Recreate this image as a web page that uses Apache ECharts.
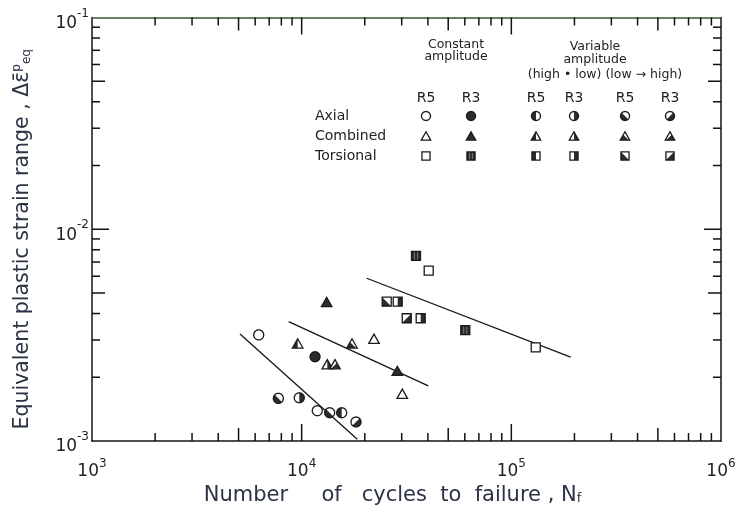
<!DOCTYPE html>
<html>
<head>
<meta charset="utf-8">
<script src="https://cdn.jsdelivr.net/npm/echarts@6/dist/echarts.min.js"></script>
<style>html,body{margin:0;padding:0;background:#fff}#c{width:739px;height:511px}</style>
</head>
<body>
<div id="c"></div>
<script>
// ---------- data ----------
// style index: 0 R5 constant, 1 R3 constant, 2 R5 high->low, 3 R3 high->low, 4 R5 low->high, 5 R3 low->high
const axialN     = [6240, 11580, 7740, 9740, 11870, 13600, 15520, 18160];
const axialEps   = [0.00317, 0.00250, 0.00159, 0.00160, 0.00139, 0.00136, 0.00136, 0.00123];
const axialStyle = [0, 1, 4, 3, 0, 4, 2, 5];

const combN     = [13160, 9570, 17380, 22130, 13250, 14420, 28590, 30200];
const combEps   = [0.00450, 0.00287, 0.00287, 0.00302, 0.00229, 0.00229, 0.00213, 0.00166];
const combStyle = [1, 2, 4, 0, 3, 5, 1, 0];

const torsN     = [35100, 40350, 25440, 28710, 31700, 36950, 60310, 130700];
const torsEps   = [0.00748, 0.00637, 0.00455, 0.00455, 0.00380, 0.00380, 0.00334, 0.00277];
const torsStyle = [1, 0, 4, 3, 5, 3, 1, 0];

// fitted lines (end points)
const axialLineN = [5080, 18420];   const axialLineEps = [0.00320, 0.00102];
const combLineN  = [8670, 40180];   const combLineEps  = [0.00366, 0.00182];
const torsLineN  = [20430, 191900]; const torsLineEps  = [0.00587, 0.00249];

// axes / ticks
const xDecades = [1e3, 1e4, 1e5, 1e6];
const yDecades = [1e-3, 1e-2, 1e-1];
const minorMult = [2, 3, 4, 5, 6, 7, 8, 9];

// legend texts
const rowLabels = ['Axial', 'Combined', 'Torsional'];
const rowShapes = ['circle', 'triangle', 'square'];
const colHeads  = ['R5', 'R3', 'R5', 'R3', 'R5', 'R3'];
const groupHead1 = 'Constant\namplitude';
const groupHead2 = 'Variable\namplitude';
const groupHead3 = '(high \u2022 low) (low \u2192 high)';

// ---------- marker drawing ----------
const FONT = 'DejaVu Sans';
const DARK = '#2c2c2c';
const dirs = [null, 'all', 180, 0, 135, 45];

function shapePoly(shape, x, y, s) {
  const pts = [];
  if (shape === 'circle') {
    const r = s / 2;
    for (let i = 0; i < 36; i++) {
      const a = i / 36 * Math.PI * 2;
      pts.push([x + r * Math.cos(a), y + r * Math.sin(a)]);
    }
  } else if (shape === 'triangle') {
    const h = s / 2;
    pts.push([x, y - h * 1.05], [x + h * 1.05, y + h * 0.8], [x - h * 1.05, y + h * 0.8]);
  } else {
    const h = s / 2 * 0.9;
    pts.push([x - h, y - h], [x + h, y - h], [x + h, y + h], [x - h, y + h]);
  }
  return pts;
}
function clipHalf(pts, cx, cy, deg) {
  const a = deg * Math.PI / 180, dx = Math.cos(a), dy = Math.sin(a);
  const f = p => (p[0] - cx) * dx + (p[1] - cy) * dy;
  const out = [];
  for (let i = 0; i < pts.length; i++) {
    const p = pts[i], q = pts[(i + 1) % pts.length];
    const fp = f(p), fq = f(q);
    if (fp >= 0) out.push(p);
    if ((fp >= 0) !== (fq >= 0)) {
      const t = fp / (fp - fq);
      out.push([p[0] + t * (q[0] - p[0]), p[1] + t * (q[1] - p[1])]);
    }
  }
  return out;
}
function marker(shape, styleIdx, x, y, s) {
  const poly = shapePoly(shape, x, y, s);
  const d = dirs[styleIdx];
  const children = [{
    type: 'polygon', shape: { points: poly },
    style: { fill: d === 'all' ? DARK : '#fff', stroke: 'none' }
  }];
  if (d !== null && d !== 'all') {
    children.push({ type: 'polygon', shape: { points: clipHalf(poly, x, y, d) },
      style: { fill: DARK, stroke: 'none' } });
  }
  if (shape === 'square' && d === 'all') {
    const h = s / 2 * 0.9;
    [-0.35, 0.35].forEach(k => children.push({ type: 'line',
      shape: { x1: x + k * h, y1: y - h + 1, x2: x + k * h, y2: y + h - 1 },
      style: { stroke: '#777', lineWidth: 1 } }));
  }
  children.push({ type: 'polygon', shape: { points: poly },
    style: { fill: 'none', stroke: '#1a1a1a', lineWidth: 1.3 } });
  return { type: 'group', children: children };
}

function pointSeries(name, shape, N, E, S, size) {
  return {
    type: 'custom', name: name, z: 5, clip: false,
    data: N.map((n, i) => [n, E[i], S[i]]),
    encode: { x: 0, y: 1 },
    renderItem: function (params, api) {
      const p = api.coord([api.value(0), api.value(1)]);
      return marker(shape, api.value(2), p[0], p[1], size);
    }
  };
}
function lineSeries(N, E) {
  return {
    type: 'line', z: 2, symbol: 'none', silent: true,
    data: N.map((n, i) => [n, E[i]]),
    lineStyle: { color: '#161616', width: 1.3 }
  };
}

// ---------- legend (graphic) ----------
const colX = [426, 471, 536, 574, 625, 670];
const rowY = [116, 136.5, 156];
const legendGraphics = [];
const txt = (t, x, y, size, align, lh) => ({
  type: 'text', x: x, y: y, silent: true,
  style: { text: t, fontFamily: FONT, fontSize: size, fill: '#222', align: align || 'center',
           verticalAlign: 'middle', lineHeight: lh || size }
});
legendGraphics.push(txt(groupHead1, 456, 51, 12.5, 'center', 12));
legendGraphics.push(txt(groupHead2, 595, 53, 12.5, 'center', 13));
legendGraphics.push(txt(groupHead3, 605, 75, 12.5, 'center'));
colHeads.forEach((h, i) => legendGraphics.push(txt(h, colX[i], 98, 14)));
rowLabels.forEach((r, j) => {
  legendGraphics.push(txt(r, 315, rowY[j], 14, 'left'));
  colHeads.forEach((h, i) => legendGraphics.push(marker(rowShapes[j], i, colX[i], rowY[j], 9)));
});

// ---------- chart ----------
const chart = echarts.init(document.getElementById('c'));
const supLabel = v => '{b|10}{s|' + Math.round(Math.log10(v)) + '}';
const TITLE_C = '#2b3345';
const baseSeries = [
  lineSeries(axialLineN, axialLineEps),
  lineSeries(combLineN, combLineEps),
  lineSeries(torsLineN, torsLineEps),
  pointSeries('Axial', 'circle', axialN, axialEps, axialStyle, 10),
  pointSeries('Combined', 'triangle', combN, combEps, combStyle, 10),
  pointSeries('Torsional', 'square', torsN, torsEps, torsStyle, 10)
];
chart.setOption({
  animation: false,
  backgroundColor: '#fff',
  grid: { left: 92, right: 18, top: 17.5, bottom: 70 },
  xAxis: [{
    type: 'log', logBase: 10, min: 1e3, max: 1e6, position: 'bottom',
    axisLine: { show: true, lineStyle: { color: '#151515', width: 1.5 } },
    axisTick: { show: false }, splitLine: { show: false }, minorTick: { show: false },
    axisLabel: {
      formatter: supLabel, margin: 12, showMinLabel: true, showMaxLabel: true,
      rich: {
        b: { fontFamily: FONT, fontSize: 17, color: '#222', padding: [10, 0, 0, 0] },
        s: { fontFamily: FONT, fontSize: 12, color: '#222', padding: [0, 0, 6, 0] }
      }
    },
    name: '{t|Number     of   cycles  to  failure , N}{f|f}',
    nameLocation: 'middle', nameGap: 44,
    nameTextStyle: {
      padding: [0, 28, 0, 0],
      rich: {
        t: { fontFamily: FONT, fontSize: 21, color: TITLE_C },
        f: { fontFamily: FONT, fontSize: 13, color: TITLE_C, padding: [6, 0, 0, 0] }
      }
    }
  }, {
    type: 'log', logBase: 10, min: 1e3, max: 1e6, position: 'top',
    axisLine: { show: true, lineStyle: { color: '#2f5a2f', width: 1.5 } },
    axisTick: { show: false }, axisLabel: { show: false }, splitLine: { show: false }
  }],
  yAxis: [{
    type: 'log', logBase: 10, min: 1e-3, max: 1e-1, position: 'left',
    axisLine: { show: true, lineStyle: { color: '#151515', width: 1.5 } },
    axisTick: { show: false }, splitLine: { show: false }, minorTick: { show: false },
    axisLabel: {
      formatter: supLabel, margin: 3, showMinLabel: true, showMaxLabel: true,
      rich: {
        b: { fontFamily: FONT, fontSize: 17, color: '#222', padding: [12, 0, 0, 0] },
        s: { fontFamily: FONT, fontSize: 12, color: '#222', padding: [0, 0, 8, 0] }
      }
    },
    name: '{t|Equivalent plastic strain range , \u0394\u03b5\u0304}{p|p}{q|eq}',
    nameLocation: 'middle', nameGap: 57, nameRotate: 90,
    nameTextStyle: {
      padding: [0, 20, 0, 0],
      rich: {
        t: { fontFamily: FONT, fontSize: 20.5, color: TITLE_C },
        p: { fontFamily: FONT, fontSize: 12, color: TITLE_C, padding: [0, 0, 12, 0] },
        q: { fontFamily: FONT, fontSize: 12, color: TITLE_C, padding: [8, 0, 0, 0] }
      }
    }
  }, {
    type: 'log', logBase: 10, min: 1e-3, max: 1e-1, position: 'right',
    axisLine: { show: true, lineStyle: { color: '#151515', width: 1.5 } },
    axisTick: { show: false }, axisLabel: { show: false }, splitLine: { show: false }
  }],
  graphic: legendGraphics,
  series: baseSeries
});

// ---------- ticks on all four sides: short line series in data space ----------
(function addTicks() {
  const px = v => chart.convertToPixel({ xAxisIndex: 0 }, v);
  const py = v => chart.convertToPixel({ yAxisIndex: 0 }, v);
  const fx = p => chart.convertFromPixel({ xAxisIndex: 0 }, p);
  const fy = p => chart.convertFromPixel({ yAxisIndex: 0 }, p);
  const xMin = xDecades[0], xMax = xDecades[xDecades.length - 1];
  const yMin = yDecades[0], yMax = yDecades[yDecades.length - 1];
  const L = px(xMin), R = px(xMax), B = py(yMin), T = py(yMax);
  const len = m => (m === 1 ? 17 : (m === 5 ? 13 : 8));
  const tickSeries = [];
  const seg = (a, b) => ({
    type: 'line', z: 4, symbol: 'none', silent: true, clip: false,
    data: [a, b], lineStyle: { color: '#111', width: 1.5 }
  });
  xDecades.forEach((d, i) => {
    if (i === xDecades.length - 1) return;
    [1].concat(minorMult).forEach(m => {
      if (m === 1 && i === 0) return;
      const v = d * m, l = len(m);
      tickSeries.push(seg([v, yMin], [v, fy(B - l)]));
      tickSeries.push(seg([v, yMax], [v, fy(T + l)]));
    });
  });
  yDecades.forEach((d, i) => {
    if (i === yDecades.length - 1) return;
    [1].concat(minorMult).forEach(m => {
      if (m === 1 && i === 0) return;
      const v = d * m, l = len(m);
      tickSeries.push(seg([xMin, v], [fx(L + l), v]));
      tickSeries.push(seg([xMax, v], [fx(R - l), v]));
    });
  });
  chart.setOption({ series: baseSeries.concat(tickSeries) });
})();
</script>
</body>
</html>
